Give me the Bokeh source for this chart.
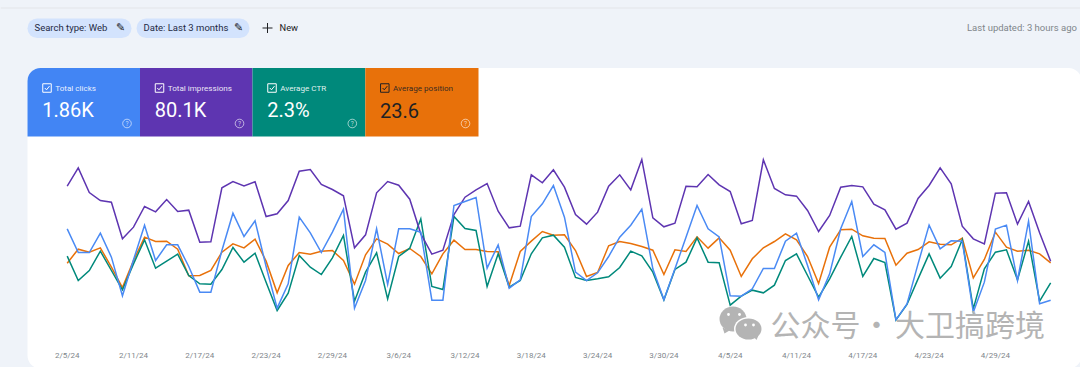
from bokeh.plotting import figure
from bokeh.embed import file_html
from bokeh.resources import INLINE
from bokeh.models import Range1d, LinearAxis, FixedTicker, BoxAnnotation, Label

# Readings of each series, as height on the chart (smaller = higher up), one per day from 2/5/24
total_clicks = [265,336,336,278,350,466,358,254,360,313,313,378,455,455,330,218,288,241,378,503,430,230,
    277,336,275,206,503,420,265,432,265,265,275,479,479,195,183,171,383,313,443,418,228,190,135,230,395,420,397,348,
    290,254,206,385,478,385,290,195,265,289,466,467,445,384,384,302,278,375,478,400,265,183,348,313,336,538,490,370,
    254,325,301,302,515,425,266,254,420,242,490,479]
total_impressions = [137,82,156,180,185,295,260,198,214,177,213,209,305,304,142,123,136,124,228,220,180,92,
    87,132,147,166,322,283,157,123,134,176,280,341,329,222,170,148,129,212,262,257,103,127,88,140,222,251,215,137,
    103,148,57,232,259,248,137,139,102,133,153,250,240,58,144,163,167,210,273,225,140,135,139,191,208,266,248,174,
    135,82,130,257,295,310,158,157,251,183,277,362]
average_ctr = [347,420,390,332,390,448,370,298,383,362,341,405,430,431,387,321,365,338,425,510,458,345,
    380,402,352,285,482,395,337,475,348,323,235,438,447,228,264,270,438,340,440,420,340,292,284,320,411,420,415,409,
    381,332,346,395,478,387,365,292,365,367,494,467,449,457,434,360,340,405,470,415,350,288,408,354,366,538,492,415,
    340,413,378,298,505,385,335,328,418,302,482,427]
average_position = [368,326,335,322,380,441,360,290,303,302,326,406,405,390,335,310,322,296,362,457,375,336,
    341,332,330,360,431,343,295,311,339,324,348,400,340,299,327,327,333,334,435,333,302,273,284,283,330,408,396,316,
    303,309,318,329,402,328,333,289,323,292,329,408,355,322,303,280,298,348,429,320,268,266,286,293,294,374,338,327,
    304,311,313,293,412,357,275,320,332,329,340,367]
tick_days = [0,6,12,18,24,30,36,42,48,54,60,66,72,78,84]
tick_labels = ["2/5/24","2/11/24","2/17/24","2/23/24","2/29/24","3/6/24","3/12/24","3/18/24",
               "3/24/24","3/30/24","4/5/24","4/11/24","4/17/24","4/23/24","4/29/24"]
tile_names = ["Total clicks","Total impressions","Average CTR","Average position"]
tile_values = ["1.86K","80.1K","2.3%","23.6"]
tile_colors = ["#4285f4","#5e35b1","#00897b","#e8710a"]
tile_inks = ["#ffffff","#ffffff","#ffffff","#202124"]

BG = "#eff3f9"
W, H = 1080, 367
p = figure(width=W, height=H, output_backend="svg", toolbar_location=None,
           x_range=Range1d(0, W), y_range=Range1d(H, 0),
           x_axis_location=None, y_axis_location=None,
           min_border_left=0, min_border_right=0, min_border_top=0, min_border_bottom=0)
p.frame_height = H
p.frame_width = W
p.outline_line_color = None
p.grid.visible = False
p.background_fill_color = None
p.border_fill_color = BG

p.extra_x_ranges["day"] = Range1d(-66.7/11.05, (W-66.7)/11.05)
p.extra_y_ranges["val"] = Range1d(681, -420)

def box(l, r, t, b, color, radius=0, level="underlay"):
    p.add_layout(BoxAnnotation(left=l, right=r, top=t, bottom=b, fill_color=color, fill_alpha=1,
                               line_color=None, border_radius=radius, level=level))

def text(x, y, s, size, color="#202124", font="Roboto", align="left", weight="normal", alpha=1.0):
    p.add_layout(Label(x=x, y=y, text=s, text_font=font, text_font_size=f"{size}px", text_color=color,
                       text_align=align, text_baseline="middle", text_font_style=weight, text_alpha=alpha))

# page chrome
box(0, W, 7, 8, "#e3e6ea")
box(27, 1081, 67.5, 368, "#ffffff", 13)

chips = [(27, 131, "Search type: Web", 34, 120), (136, 249, "Date: Last 3 months", 143, 238)]
for l, r, s, tx, ix in chips:
    box(l, r, 18, 37.5, "#d3e3fd", 10)
    text(tx, 27, s, 9.5, "#1f2a44")
    text(ix, 27, "\u270e", 11, "#202124", font="DejaVu Sans", align="center")
box(262, 272, 27, 28, "#202124", level="annotation")
box(266.5, 267.5, 22.5, 32.5, "#202124", level="annotation")
text(279, 27, "New", 9.3, "#202124")
text(966.5, 27, "Last updated: 3 hours ago", 9.5, "#80868b")

# metric tiles
edges = [27, 139.5, 252, 364.8, 478]
for i in range(4):
    l, r = edges[i], edges[i+1]
    box(l, r, 67.5, 136, tile_colors[i], (13, 0, 0, 0) if i == 0 else 0)
    ink = tile_inks[i]
    p.rect(x=[l+19.5], y=[87.5], width=8.5, height=8.5, fill_color=None, line_color=ink, line_width=1)
    p.line(x=[l+17.3, l+19, l+22], y=[87.5, 89.3, 85.6], line_color=ink, line_width=1)
    text(l+27.7, 87.3, tile_names[i], 8.1, ink, alpha=0.9)
    text(l+14.7, 109.5, tile_values[i], 20, ink)
    p.circle(x=[r-13], y=[123], radius=4.3, fill_color=None, line_color="#ffffff", line_alpha=0.6, line_width=1)
    text(r-13, 123, "?", 6.5, "#ffffff", align="center", alpha=0.7)

# watermark (under the series)
WM = "#b4b4b4"
p.patch(x=[722, 729, 724], y=[327, 330, 333], fill_color=WM, line_color=None)
p.ellipse(x=[732.5], y=[318.5], width=27, height=25, fill_color=WM, line_color=None)
p.ellipse(x=[748], y=[328.5], width=29, height=24, fill_color="#ffffff", line_color=None)
p.patch(x=[752, 758, 756], y=[335, 335, 339.5], fill_color=WM, line_color=None)
p.ellipse(x=[748], y=[328.5], width=26, height=21, fill_color=WM, line_color=None)
p.circle(x=[728, 739, 745, 753], y=[314, 314, 324.5, 324.5], radius=1.4, fill_color="#ffffff", line_color=None)
text(770, 322.5, "公众号", 30, WM, font="Noto Sans CJK SC")
text(876, 322.5, "·", 30, WM, font="Noto Sans CJK SC", align="center")
text(894.5, 322.5, "大卫搞跨境", 30, WM, font="Noto Sans CJK SC")

# chart series
days = list(range(len(total_clicks)))
for series, color in [(average_position, tile_colors[3]), (average_ctr, tile_colors[2]),
                      (total_impressions, tile_colors[1]), (total_clicks, "#4a8af4")]:
    p.line(x=days, y=series, x_range_name="day", y_range_name="val",
           line_color=color, line_width=1.5, line_join="miter")

axis = LinearAxis(x_range_name="day", ticker=FixedTicker(ticks=tick_days),
                  major_label_overrides={d: s for d, s in zip(tick_days, tick_labels)},
                  axis_line_color=None, major_tick_line_color=None, minor_tick_line_color=None,
                  major_label_text_font="Roboto", major_label_text_font_size="8px",
                  major_label_text_color="#80868b", major_label_standoff=-23)
p.add_layout(axis, "below")

html = file_html(p, INLINE).replace("<head>", "<head><style>html,body{margin:0;padding:0;background:%s;overflow:hidden}</style>" % BG, 1)
open("out.html", "w").write(html)
